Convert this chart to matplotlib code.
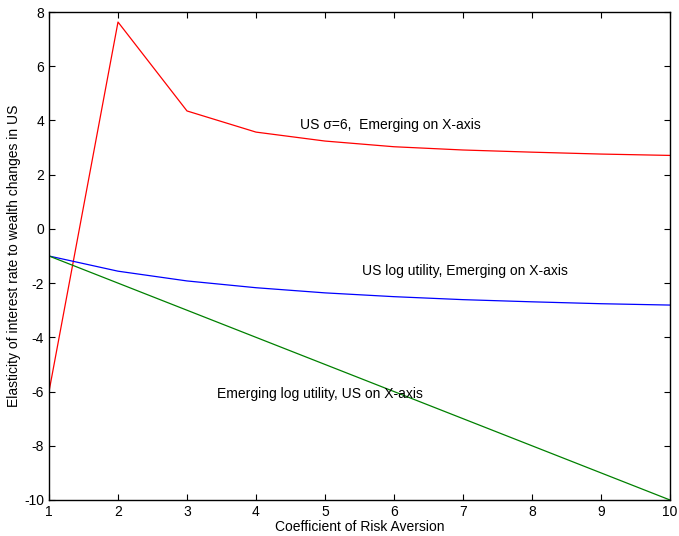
import matplotlib.pyplot as plt
import numpy as np

plt.rcParams['font.family'] = ['Liberation Sans', 'DejaVu Sans']
plt.rcParams['axes.unicode_minus'] = False

# coefficient of risk aversion
x = [1, 2, 3, 4, 5, 6, 7, 8, 9, 10]
# US sigma=6, emerging on x-axis
us_sigma6 = [-6.0, 7.63, 4.35, 3.57, 3.24, 3.03, 2.91, 2.83, 2.76, 2.71]
# US log utility, emerging on x-axis
us_log = [-1.0, -1.56, -1.92, -2.17, -2.36, -2.5, -2.61, -2.69, -2.76, -2.81]
# emerging log utility, US on x-axis
em_log = [-1, -2, -3, -4, -5, -6, -7, -8, -9, -10]

fig = plt.figure(figsize=(6.79, 5.36), dpi=100)
ax = fig.add_axes([49/679, 1 - 500/536, 621/679, 488/536])

ax.plot(x, us_sigma6, color='red', lw=0.9)
ax.plot(x, us_log, color='blue', lw=0.9)
ax.plot(x, em_log, color='green', lw=0.9)

ax.text(4.64, 3.83, 'US σ=6,  Emerging on X-axis', fontsize=10, va='center')
ax.text(5.54, -1.56, 'US log utility, Emerging on X-axis', fontsize=10, va='center')
ax.text(3.43, -6.1, 'Emerging log utility, US on X-axis', fontsize=10, va='center')

ax.set_xlim(1, 10)
ax.set_ylim(-10, 8)
ax.set_xticks(range(1, 11))
ax.set_yticks(range(-10, 9, 2))
ax.tick_params(direction='in', top=True, right=True, labelsize=10, length=4)
for s in ax.spines.values():
    s.set_linewidth(1.0)

ax.set_xlabel('Coefficient of Risk Aversion', fontsize=10, labelpad=1)
ax.set_ylabel('Elasticity of interest rate to wealth changes in US', fontsize=10, labelpad=2)

plt.savefig('out.png', dpi=100)
